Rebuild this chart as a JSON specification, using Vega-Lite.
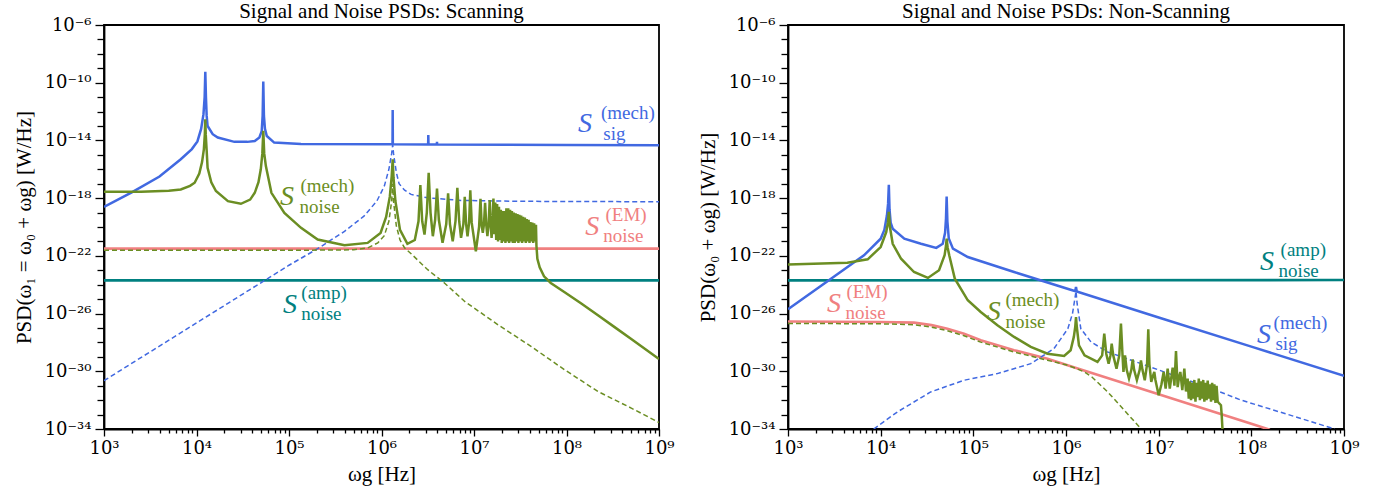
{
  "$schema": "https://vega.github.io/schema/vega-lite/v6.json",
  "background": "white",
  "padding": {"left": 12, "top": 0, "right": 5, "bottom": 5},
  "config": {
    "view": {"stroke": "black", "strokeWidth": 1.8},
    "font": "Liberation Serif",
    "axis": {"domainColor": "black", "domainWidth": 1.8, "tickColor": "black", "tickWidth": 1.3, "labelColor": "black", "titleColor": "black", "labelFont": "DejaVu Serif", "titleFont": "Liberation Serif", "labelFontSize": 18, "titleFontSize": 21, "titleFontWeight": "normal", "grid": false, "labelOverlap": false, "labelFlush": false, "labelBound": false},
    "title": {"font": "Liberation Serif", "fontSize": 21, "fontWeight": "normal", "color": "black", "offset": -6}
  },
  "datasets": {
    "L": [
      {"s":"sig","x":1000,"y":2.512e-19},{"s":"sig","x":1995,"y":2.512e-18},{"s":"sig","x":3981,"y":3.162e-17},{"s":"sig","x":6761,"y":5.012e-16},{"s":"sig","x":8913,"y":2.512e-15},{"s":"sig","x":10230,"y":8.5e-15},{"s":"sig","x":11220,"y":6.31e-14},{"s":"sig","x":11890,"y":6.31e-13},{"s":"sig","x":12250,"y":1e-11},{"s":"sig","x":12450,"y":5.623e-10},{"s":"sig","x":12650,"y":1e-11},{"s":"sig","x":12880,"y":5.012e-13},{"s":"sig","x":13180,"y":1e-13},{"s":"sig","x":14960,"y":2.692e-14},{"s":"sig","x":16980,"y":1.585e-14},{"s":"sig","x":25700,"y":7.943e-15},{"s":"sig","x":35480,"y":7.943e-15},{"s":"sig","x":42660,"y":9.12e-15},{"s":"sig","x":47860,"y":1.585e-14},{"s":"sig","x":50700,"y":4.467e-14},{"s":"sig","x":51880,"y":5.012e-13},{"s":"sig","x":52720,"y":1.23e-10},{"s":"sig","x":53580,"y":5.012e-13},{"s":"sig","x":54950,"y":6.31e-14},{"s":"sig","x":57540,"y":2.042e-14},{"s":"sig","x":69180,"y":7.079e-15},{"s":"sig","x":134900,"y":5.623e-15},{"s":"sig","x":1000000,"y":5.37e-15},{"s":"sig","x":1315000,"y":5.37e-15},{"s":"sig","x":1321000,"y":1.259e-12},{"s":"sig","x":1327000,"y":5.37e-15},{"s":"sig","x":3192000,"y":5.248e-15},{"s":"sig","x":3206000,"y":2.399e-14},{"s":"sig","x":3221000,"y":5.248e-15},{"s":"sig","x":3963000,"y":5.248e-15},{"s":"sig","x":3981000,"y":7.943e-15},{"s":"sig","x":3999000,"y":5.248e-15},{"s":"sig","x":100000000,"y":4.898e-15},{"s":"sig","x":1000000000,"y":4.677e-15},
      {"s":"sigd","x":1000,"y":2.239e-31},{"s":"sigd","x":3162,"y":2.239e-29},{"s":"sigd","x":10000,"y":2.239e-27},{"s":"sigd","x":31620,"y":2.239e-25},{"s":"sigd","x":100000,"y":2.239e-23},{"s":"sigd","x":204200,"y":3.162e-22},{"s":"sigd","x":398100,"y":5.012e-21},{"s":"sigd","x":645700,"y":5.623e-20},{"s":"sigd","x":891300,"y":6.31e-19},{"s":"sigd","x":1072000,"y":6.761e-18},{"s":"sigd","x":1202000,"y":1e-16},{"s":"sigd","x":1288000,"y":1.259e-15},{"s":"sigd","x":1321000,"y":5.012e-15},{"s":"sigd","x":1349000,"y":1.259e-15},{"s":"sigd","x":1445000,"y":6.31e-17},{"s":"sigd","x":1549000,"y":1e-17},{"s":"sigd","x":1778000,"y":3.548e-18},{"s":"sigd","x":2089000,"y":1.82e-18},{"s":"sigd","x":3162000,"y":1.047e-18},{"s":"sigd","x":7244000,"y":6.918e-19},{"s":"sigd","x":31620000,"y":6.026e-19},{"s":"sigd","x":316200000,"y":5.754e-19},{"s":"sigd","x":1000000000,"y":5.623e-19},
      {"s":"nmd","x":1000,"y":2.399e-22},{"s":"nmd","x":100000,"y":2.399e-22},{"s":"nmd","x":501200,"y":2.63e-22},{"s":"nmd","x":707900,"y":3.548e-22},{"s":"nmd","x":912000,"y":7.943e-22},{"s":"nmd","x":1072000,"y":2.512e-21},{"s":"nmd","x":1202000,"y":2.512e-20},{"s":"nmd","x":1288000,"y":6.31e-19},{"s":"nmd","x":1321000,"y":1e-17},{"s":"nmd","x":1349000,"y":6.31e-19},{"s":"nmd","x":1445000,"y":1.259e-20},{"s":"nmd","x":1585000,"y":1.259e-21},{"s":"nmd","x":1778000,"y":3.548e-22},{"s":"nmd","x":2089000,"y":1.413e-22},{"s":"nmd","x":2512000,"y":4.467e-23},{"s":"nmd","x":3162000,"y":1.096e-23},{"s":"nmd","x":4786000,"y":1.318e-24},{"s":"nmd","x":7943000,"y":6.918e-26},{"s":"nmd","x":18200000,"y":1.66e-27},{"s":"nmd","x":41690000,"y":5.129e-29},{"s":"nmd","x":95500000,"y":1.259e-30},{"s":"nmd","x":218800000,"y":3.981e-32},{"s":"nmd","x":501200000,"y":2.818e-33},{"s":"nmd","x":1000000000,"y":2.818e-34},
      {"s":"em","x":1000,"y":3.162e-22},{"s":"em","x":1000000000,"y":3.162e-22},
      {"s":"amp","x":1000,"y":2.0e-24},{"s":"amp","x":1000000000,"y":2.0e-24},
      {"s":"nm","x":1000,"y":2.754e-18},{"s":"nm","x":2512,"y":2.818e-18},{"s":"nm","x":5012,"y":3.311e-18},{"s":"nm","x":6761,"y":3.981e-18},{"s":"nm","x":8511,"y":7.079e-18},{"s":"nm","x":9550,"y":1.175e-17},{"s":"nm","x":10720,"y":5.012e-17},{"s":"nm","x":11480,"y":3.162e-16},{"s":"nm","x":12020,"y":2.512e-15},{"s":"nm","x":12300,"y":2.512e-14},{"s":"nm","x":12450,"y":2.951e-13},{"s":"nm","x":12590,"y":2.512e-14},{"s":"nm","x":12880,"y":1.995e-15},{"s":"nm","x":13180,"y":1.259e-16},{"s":"nm","x":14450,"y":1.259e-17},{"s":"nm","x":16220,"y":3.09e-18},{"s":"nm","x":21880,"y":6.166e-19},{"s":"nm","x":30200,"y":4.074e-19},{"s":"nm","x":38020,"y":7.943e-19},{"s":"nm","x":42660,"y":2.344e-18},{"s":"nm","x":46770,"y":1.259e-17},{"s":"nm","x":49550,"y":1e-16},{"s":"nm","x":51520,"y":1.259e-15},{"s":"nm","x":52720,"y":4.571e-14},{"s":"nm","x":53950,"y":1.259e-15},{"s":"nm","x":56230,"y":1.66e-16},{"s":"nm","x":64570,"y":2.344e-18},{"s":"nm","x":89130,"y":9.55e-20},{"s":"nm","x":134900,"y":8.71e-21},{"s":"nm","x":204200,"y":1.349e-21},{"s":"nm","x":398100,"y":5.37e-22},{"s":"nm","x":707900,"y":7.943e-22},{"s":"nm","x":977200,"y":3.89e-21},{"s":"nm","x":1122000,"y":5.012e-20},{"s":"nm","x":1230000,"y":1.259e-18},{"s":"nm","x":1288000,"y":3.162e-17},{"s":"nm","x":1321000,"y":4.898e-16},{"s":"nm","x":1349000,"y":2.512e-17},{"s":"nm","x":1413000,"y":6.31e-19},{"s":"nm","x":1585000,"y":6.31e-21},{"s":"nm","x":1905000,"y":6.761e-22},{"s":"nm","x":2291000,"y":1.259e-21},{"s":"nm","x":2512000,"y":2.512e-20},{"s":"nm","x":2630000,"y":7.943e-18},{"s":"nm","x":2754000,"y":2.512e-20},{"s":"nm","x":2917000,"y":3.02e-21},{"s":"nm","x":3090000,"y":1e-19},{"s":"nm","x":3236000,"y":5.754e-17},{"s":"nm","x":3388000,"y":1e-19},{"s":"nm","x":3589000,"y":2.291e-21},{"s":"nm","x":3802000,"y":3.162e-20},{"s":"nm","x":3981000,"y":4.677e-18},{"s":"nm","x":4169000,"y":3.162e-20},{"s":"nm","x":4571000,"y":7.943e-22},{"s":"nm","x":5012000,"y":1.585e-20},{"s":"nm","x":5248000,"y":2.138e-18},{"s":"nm","x":5495000,"y":1.585e-20},{"s":"nm","x":5888000,"y":1.023e-21},{"s":"nm","x":6310000,"y":2.512e-20},{"s":"nm","x":6607000,"y":5.248e-18},{"s":"nm","x":6918000,"y":2.512e-20},{"s":"nm","x":7244000,"y":1.778e-21},{"s":"nm","x":7674000,"y":1.585e-20},{"s":"nm","x":7943000,"y":1.23e-18},{"s":"nm","x":8222000,"y":1.585e-20},{"s":"nm","x":8511000,"y":2.291e-21},{"s":"nm","x":8851000,"y":1.995e-20},{"s":"nm","x":9120000,"y":3.548e-18},{"s":"nm","x":9441000,"y":1.995e-20},{"s":"nm","x":10470000,"y":2.089e-22},{"s":"nm","x":11350000,"y":1e-20},{"s":"nm","x":11750000,"y":9.12e-19},{"s":"nm","x":12110000,"y":1.259e-20},{"s":"nm","x":12450000,"y":3.89e-21},{"s":"nm","x":12820000,"y":1.585e-20},{"s":"nm","x":13180000,"y":4.786e-19},{"s":"nm","x":13550000,"y":1.585e-20},{"s":"nm","x":13960000,"y":2.291e-21},{"s":"nm","x":14390000,"y":1.585e-20},{"s":"nm","x":14790000,"y":7.244e-19},{"s":"nm","x":15140000,"y":1.585e-20},{"s":"nm","x":15490000,"y":1.778e-21},{"s":"nm","x":15850000,"y":1.585e-20},{"s":"nm","x":16220000,"y":9.55e-19},{"s":"nm","x":16600000,"y":3.162e-21},
      {"s":"nm","x":16980000,"y":5.012e-19},{"s":"nm","x":17380000,"y":1.259e-21},{"s":"nm","x":17780000,"y":3.981e-19},{"s":"nm","x":18200000,"y":1e-21},{"s":"nm","x":18620000,"y":2.512e-19},{"s":"nm","x":19050000,"y":1.259e-21},{"s":"nm","x":19500000,"y":1.585e-19},{"s":"nm","x":19950000,"y":7.943e-22},{"s":"nm","x":20420000,"y":1.259e-19},{"s":"nm","x":20890000,"y":1e-21},{"s":"nm","x":21380000,"y":1.259e-19},{"s":"nm","x":21880000,"y":7.943e-22},{"s":"nm","x":22390000,"y":1.995e-19},{"s":"nm","x":22910000,"y":1e-21},{"s":"nm","x":23440000,"y":1.995e-19},{"s":"nm","x":23990000,"y":7.943e-22},{"s":"nm","x":24550000,"y":1.585e-19},{"s":"nm","x":25120000,"y":1e-21},{"s":"nm","x":25700000,"y":1.259e-19},{"s":"nm","x":26300000,"y":7.943e-22},{"s":"nm","x":26920000,"y":1e-19},{"s":"nm","x":27540000,"y":7.943e-22},{"s":"nm","x":28180000,"y":8.913e-20},{"s":"nm","x":28840000,"y":1e-21},{"s":"nm","x":29510000,"y":7.943e-20},{"s":"nm","x":30200000,"y":7.943e-22},{"s":"nm","x":30900000,"y":7.079e-20},{"s":"nm","x":31620000,"y":1e-21},{"s":"nm","x":32360000,"y":6.31e-20},{"s":"nm","x":33110000,"y":7.943e-22},{"s":"nm","x":33880000,"y":5.012e-20},{"s":"nm","x":34670000,"y":1e-21},{"s":"nm","x":35480000,"y":4.467e-20},{"s":"nm","x":36310000,"y":7.943e-22},{"s":"nm","x":37150000,"y":3.548e-20},{"s":"nm","x":38020000,"y":1e-21},{"s":"nm","x":38900000,"y":3.162e-20},{"s":"nm","x":39810000,"y":7.943e-22},{"s":"nm","x":40740000,"y":2.239e-20},{"s":"nm","x":41690000,"y":1e-21},{"s":"nm","x":42660000,"y":1.995e-20},{"s":"nm","x":43650000,"y":7.943e-22},{"s":"nm","x":44670000,"y":1.778e-20},{"s":"nm","x":45710000,"y":1e-21},{"s":"nm","x":46770000,"y":1.413e-20},
      {"s":"nm","x":47320000,"y":5.012e-22},{"s":"nm","x":48420000,"y":6.31e-23},{"s":"nm","x":51290000,"y":1.585e-23},{"s":"nm","x":57150000,"y":3.802e-24},{"s":"nm","x":67610000,"y":1.318e-24},{"s":"nm","x":95500000,"y":3.0e-25},{"s":"nm","x":144500000,"y":5.0e-26},{"s":"nm","x":218800000,"y":7.6e-27},{"s":"nm","x":331100000,"y":1.15e-27},{"s":"nm","x":501200000,"y":1.7e-28},{"s":"nm","x":707900000,"y":3.5e-29},{"s":"nm","x":1000000000,"y":7.079e-30}
    ],
    "R": [
      {"s":"sig","x":1000,"y":1.995e-26},{"s":"sig","x":2911,"y":2.63e-24},{"s":"sig","x":6607,"y":1.096e-22},{"s":"sig","x":10000,"y":1.549e-21},{"s":"sig","x":10960,"y":6.31e-21},{"s":"sig","x":11690,"y":6.457e-20},{"s":"sig","x":12020,"y":3.981e-19},{"s":"sig","x":12250,"y":8.511e-18},{"s":"sig","x":12470,"y":1.585e-19},{"s":"sig","x":12820,"y":1.995e-20},{"s":"sig","x":13490,"y":7.586e-21},{"s":"sig","x":17990,"y":1.549e-21},{"s":"sig","x":27230,"y":6.918e-22},{"s":"sig","x":39810,"y":3.548e-22},{"s":"sig","x":46770,"y":6.918e-22},{"s":"sig","x":49550,"y":3.981e-21},{"s":"sig","x":50700,"y":3.981e-20},{"s":"sig","x":51520,"y":1.318e-18},{"s":"sig","x":52480,"y":2.512e-20},{"s":"sig","x":54330,"y":1.585e-21},{"s":"sig","x":60260,"y":3.162e-22},{"s":"sig","x":87100,"y":8.318e-23},{"s":"sig","x":275400,"y":7.586e-24},{"s":"sig","x":1122000,"y":4.467e-25},{"s":"sig","x":1259000,"y":3.548e-25},{"s":"sig","x":1282000,"y":7.079e-25},{"s":"sig","x":1306000,"y":3.388e-25},{"s":"sig","x":10000000,"y":5.37e-27},{"s":"sig","x":100000000,"y":5.129e-29},{"s":"sig","x":1000000000,"y":4.786e-31},
      {"s":"sigd","x":8414,"y":1e-34},{"s":"sigd","x":15140,"y":1.514e-33},{"s":"sigd","x":34670,"y":3.715e-32},{"s":"sigd","x":79430,"y":2.399e-31},{"s":"sigd","x":182000,"y":6.918e-31},{"s":"sigd","x":416900,"y":3.388e-30},{"s":"sigd","x":741300,"y":3.715e-29},{"s":"sigd","x":1047000,"y":8.913e-28},{"s":"sigd","x":1175000,"y":1e-26},{"s":"sigd","x":1245000,"y":1e-25},{"s":"sigd","x":1282000,"y":3.548e-25},{"s":"sigd","x":1318000,"y":5.012e-26},{"s":"sigd","x":1445000,"y":8.913e-28},{"s":"sigd","x":1862000,"y":1.072e-28},{"s":"sigd","x":2818000,"y":2.188e-29},{"s":"sigd","x":6457000,"y":3.388e-30},{"s":"sigd","x":14790000,"y":5.012e-31},{"s":"sigd","x":33880000,"y":7.943e-32},{"s":"sigd","x":77620000,"y":1e-32},{"s":"sigd","x":316200000,"y":6.31e-34},{"s":"sigd","x":794300000,"y":1e-34},
      {"s":"em","x":1000,"y":2.818e-27},{"s":"em","x":10000,"y":2.63e-27},{"s":"em","x":22910,"y":2.344e-27},{"s":"em","x":35480,"y":1.585e-27},{"s":"em","x":52480,"y":8.913e-28},{"s":"em","x":79430,"y":3.981e-28},{"s":"em","x":120200,"y":1.413e-28},{"s":"em","x":275400,"y":2.884e-29},{"s":"em","x":631000,"y":7.413e-30},{"s":"em","x":1445000,"y":1.349e-30},{"s":"em","x":10000000,"y":2.57e-32},{"s":"em","x":100000000,"y":2.291e-34},{"s":"em","x":158500000,"y":8.913e-35},
      {"s":"nmd","x":1000,"y":2.089e-27},{"s":"nmd","x":10000,"y":1.95e-27},{"s":"nmd","x":22910,"y":1.698e-27},{"s":"nmd","x":35480,"y":1.148e-27},{"s":"nmd","x":52480,"y":6.457e-28},{"s":"nmd","x":79430,"y":2.884e-28},{"s":"nmd","x":120200,"y":1.047e-28},{"s":"nmd","x":275400,"y":2.188e-29},{"s":"nmd","x":631000,"y":5.754e-30},{"s":"nmd","x":1000000,"y":2.818e-30},{"s":"nmd","x":1259000,"y":1.66e-30},{"s":"nmd","x":1585000,"y":8.913e-31},{"s":"nmd","x":1905000,"y":3.981e-31},{"s":"nmd","x":2818000,"y":3.715e-32},{"s":"nmd","x":4266000,"y":1.995e-33},{"s":"nmd","x":6457000,"y":1e-34},
      {"s":"amp","x":1000,"y":2.0e-24},{"s":"amp","x":1000000000,"y":2.1e-24},
      {"s":"nm","x":1000,"y":2.512e-23},{"s":"nm","x":4365,"y":3.388e-23},{"s":"nm","x":7244,"y":5.754e-23},{"s":"nm","x":10000,"y":4.074e-22},{"s":"nm","x":11480,"y":4.467e-21},{"s":"nm","x":11970,"y":1.995e-20},{"s":"nm","x":12250,"y":1.122e-19},{"s":"nm","x":12590,"y":1e-20},{"s":"nm","x":13490,"y":6.918e-22},{"s":"nm","x":16600,"y":6.31e-23},{"s":"nm","x":22910,"y":7.586e-24},{"s":"nm","x":32360,"y":2.951e-24},{"s":"nm","x":42660,"y":1e-23},{"s":"nm","x":48980,"y":1.096e-22},{"s":"nm","x":50700,"y":5.012e-22},{"s":"nm","x":51520,"y":1.549e-21},{"s":"nm","x":52720,"y":3.981e-22},{"s":"nm","x":54950,"y":1.096e-22},{"s":"nm","x":63100,"y":2.63e-24},{"s":"nm","x":87100,"y":8.318e-26},{"s":"nm","x":120200,"y":1.288e-26},{"s":"nm","x":182000,"y":1.549e-27},{"s":"nm","x":275400,"y":2.399e-28},{"s":"nm","x":416900,"y":4.898e-29},{"s":"nm","x":631000,"y":1.66e-29},{"s":"nm","x":955000,"y":1.148e-29},{"s":"nm","x":1122000,"y":2.884e-29},{"s":"nm","x":1216000,"y":2.512e-28},{"s":"nm","x":1259000,"y":1.259e-27},{"s":"nm","x":1282000,"y":5.754e-27},{"s":"nm","x":1312000,"y":1e-27},{"s":"nm","x":1380000,"y":6.31e-29},{"s":"nm","x":1585000,"y":1.288e-29},{"s":"nm","x":2188000,"y":4.467e-30},{"s":"nm","x":2455000,"y":1.259e-29},{"s":"nm","x":2588000,"y":4.074e-28},{"s":"nm","x":2723000,"y":1.585e-29},{"s":"nm","x":2884000,"y":3.388e-30},{"s":"nm","x":3020000,"y":1.259e-29},{"s":"nm","x":3112000,"y":8.128e-29},{"s":"nm","x":3236000,"y":1.259e-29},{"s":"nm","x":3508000,"y":1.514e-30},{"s":"nm","x":3758000,"y":1.259e-29},{"s":"nm","x":3917000,"y":1.995e-27},{"s":"nm","x":4074000,"y":1.259e-29},{"s":"nm","x":4169000,"y":8.913e-31},{"s":"nm","x":4335000,"y":1.288e-29},{"s":"nm","x":4519000,"y":1.259e-30},{"s":"nm","x":4786000,"y":3.09e-31},{"s":"nm","x":5070000,"y":1.259e-30},{"s":"nm","x":5248000,"y":6.761e-30},{"s":"nm","x":5433000,"y":1.259e-30},{"s":"nm","x":5821000,"y":2.399e-31},{"s":"nm","x":6237000,"y":1.259e-30},{"s":"nm","x":6442000,"y":5.754e-30},{"s":"nm","x":6683000,"y":1.259e-30},{"s":"nm","x":7079000,"y":2.399e-31},{"s":"nm","x":7499000,"y":3.162e-30},{"s":"nm","x":7727000,"y":8.128e-28},{"s":"nm","x":7943000,"y":3.162e-30},{"s":"nm","x":8318000,"y":1.82e-31},{"s":"nm","x":8710000,"y":5.012e-31},{"s":"nm","x":8974000,"y":8.913e-31},{"s":"nm","x":9226000,"y":2.512e-31},{"s":"nm","x":10000000,"y":2.188e-32},{"s":"nm","x":10720000,"y":1.259e-31},{"s":"nm","x":11320000,"y":8.913e-31},{"s":"nm","x":11890000,"y":6.31e-32},{"s":"nm","x":12500000,"y":1.514e-30},{"s":"nm","x":13180000,"y":6.31e-32},{"s":"nm","x":14160000,"y":1.778e-30},{"s":"nm","x":14790000,"y":1e-31},{"s":"nm","x":15380000,"y":2.512e-29},{"s":"nm","x":16030000,"y":7.943e-32},{"s":"nm","x":16600000,"y":3.981e-31},{"s":"nm","x":17140000,"y":8.913e-31},{"s":"nm","x":17990000,"y":5.012e-32},{"s":"nm","x":18920000,"y":1.514e-30},{"s":"nm","x":19720000,"y":3.981e-32},{"s":"nm","x":20560000,"y":3.09e-31},
      {"s":"nm","x":21130000,"y":1.259e-32},{"s":"nm","x":21730000,"y":1.995e-31},{"s":"nm","x":22340000,"y":1e-32},{"s":"nm","x":22960000,"y":1.585e-31},{"s":"nm","x":23600000,"y":1.259e-32},{"s":"nm","x":24270000,"y":2.512e-31},{"s":"nm","x":24950000,"y":7.943e-33},{"s":"nm","x":25650000,"y":1.585e-31},{"s":"nm","x":26360000,"y":1.585e-32},{"s":"nm","x":27100000,"y":3.162e-31},{"s":"nm","x":27860000,"y":1e-32},{"s":"nm","x":28640000,"y":1.995e-31},{"s":"nm","x":29440000,"y":1.259e-32},{"s":"nm","x":30270000,"y":2.512e-31},{"s":"nm","x":31120000,"y":7.943e-33},{"s":"nm","x":31990000,"y":1.585e-31},{"s":"nm","x":32890000,"y":1e-32},{"s":"nm","x":33810000,"y":2.239e-31},{"s":"nm","x":34750000,"y":1.259e-32},{"s":"nm","x":35730000,"y":1.259e-31},{"s":"nm","x":36730000,"y":7.943e-33},{"s":"nm","x":37760000,"y":1.585e-31},{"s":"nm","x":38820000,"y":1e-32},{"s":"nm","x":39900000,"y":1.259e-31},{"s":"nm","x":41020000,"y":6.31e-33},{"s":"nm","x":42170000,"y":1e-31},{"s":"nm","x":43350000,"y":7.943e-33},{"s":"nm","x":44670000,"y":6.31e-33},{"s":"nm","x":46990000,"y":4.467e-33},{"s":"nm","x":47860000,"y":1e-33},{"s":"nm","x":48980000,"y":6.31e-35}
    ],
    "LL": [
      {"s":"sig","k":"S","t":"S","x":1.33e8,"y":1.318e-13},{"s":"sig","k":"u","t":"(mech)","x":2.36e8,"y":8.318e-13},{"s":"sig","k":"d","t":"sig","x":2.5e8,"y":2.884e-14},
      {"s":"nm","k":"S","t":"S","x":8.0e4,"y":1.122e-18},{"s":"nm","k":"u","t":"(mech)","x":1.33e5,"y":7.079e-18},{"s":"nm","k":"d","t":"noise","x":1.3e5,"y":2.455e-19},
      {"s":"em","k":"S","t":"S","x":1.59e8,"y":1.072e-20},{"s":"em","k":"u","t":"(EM)","x":2.64e8,"y":6.761e-20},{"s":"em","k":"d","t":"noise","x":2.5e8,"y":2.344e-21},
      {"s":"amp","k":"S","t":"S","x":8.6e4,"y":4.074e-26},{"s":"amp","k":"u","t":"(amp)","x":1.36e5,"y":2.57e-25},{"s":"amp","k":"d","t":"noise","x":1.36e5,"y":8.913e-27}
    ],
    "LR": [
      {"s":"amp","k":"S","t":"S","x":1.24e8,"y":3.802e-23},{"s":"amp","k":"u","t":"(amp)","x":2.07e8,"y":2.399e-22},{"s":"amp","k":"d","t":"noise","x":1.97e8,"y":8.318e-24},
      {"s":"sig","k":"S","t":"S","x":1.15e8,"y":3.311e-28},{"s":"sig","k":"u","t":"(mech)","x":1.74e8,"y":2.089e-27},{"s":"sig","k":"d","t":"sig","x":1.82e8,"y":7.244e-29},
      {"s":"em","k":"S","t":"S","x":2640,"y":4.677e-26},{"s":"em","k":"u","t":"(EM)","x":4280,"y":2.951e-25},{"s":"em","k":"d","t":"noise","x":4180,"y":1.023e-26},
      {"s":"nm","k":"S","t":"S","x":1.40e5,"y":1.288e-26},{"s":"nm","k":"u","t":"(mech)","x":2.22e5,"y":8.128e-26},{"s":"nm","k":"d","t":"noise","x":2.22e5,"y":2.818e-27}
    ]
  },
  "bounds": "flush",
  "spacing": 129,
  "hconcat": [
    {
      "width": 555,
      "height": 404,
      "title": {"text": "Signal and Noise PSDs: Scanning"},
      "data": {"name": "L"},
      "encoding": {
        "x": {"field": "x", "type": "quantitative", "title": "ωg [Hz]",
          "scale": {"type": "log", "domain": [1000, 1000000000], "nice": false},
          "axis": {"values": [1000,2000,3000,4000,5000,6000,7000,8000,9000,10000,20000,30000,40000,50000,60000,70000,80000,90000,100000,200000,300000,400000,500000,600000,700000,800000,900000,1000000,2000000,3000000,4000000,5000000,6000000,7000000,8000000,9000000,10000000,20000000,30000000,40000000,50000000,60000000,70000000,80000000,90000000,100000000,200000000,300000000,400000000,500000000,600000000,700000000,800000000,900000000,1000000000],
            "labelExpr": "datum.value==1000?'10³':datum.value==10000?'10⁴':datum.value==100000?'10⁵':datum.value==1000000?'10⁶':datum.value==10000000?'10⁷':datum.value==100000000?'10⁸':datum.value==1000000000?'10⁹':''",
            "tickSize": {"condition": {"test": "datum.value==1000||datum.value==10000||datum.value==100000||datum.value==1000000||datum.value==10000000||datum.value==100000000||datum.value==1000000000", "value": 7}, "value": 4},
            "labelPadding": 3, "titlePadding": 6}},
        "y": {"field": "y", "type": "quantitative", "title": "PSD(ω₁ = ω₀ + ωg)  [W/Hz]",
          "scale": {"type": "log", "domain": [1e-34, 1e-6], "nice": false},
          "axis": {"values": [1e-34,1e-33,1e-32,1e-31,1e-30,1e-29,1e-28,1e-27,1e-26,1e-25,1e-24,1e-23,1e-22,1e-21,1e-20,1e-19,1e-18,1e-17,1e-16,1e-15,1e-14,1e-13,1e-12,1e-11,1e-10,1e-9,1e-8,1e-7,1e-6],
            "labelExpr": "datum.value==1e-6?'10⁻⁶':datum.value==1e-10?'10⁻¹⁰':datum.value==1e-14?'10⁻¹⁴':datum.value==1e-18?'10⁻¹⁸':datum.value==1e-22?'10⁻²²':datum.value==1e-26?'10⁻²⁶':datum.value==1e-30?'10⁻³⁰':datum.value==1e-34?'10⁻³⁴':''",
            "tickSize": {"condition": {"test": "datum.value==1e-6||datum.value==1e-10||datum.value==1e-14||datum.value==1e-18||datum.value==1e-22||datum.value==1e-26||datum.value==1e-30||datum.value==1e-34", "value": 9}, "value": 7},
            "labelPadding": 4, "titlePadding": 10}}
      },
      "layer": [
        {"transform": [{"filter": "datum.s=='amp'||datum.s=='em'"}], "mark": {"type": "line", "strokeWidth": 2.6, "clip": true},
         "encoding": {"color": {"field": "s", "type": "nominal", "legend": null, "scale": {"domain": ["sig","sigd","nm","nmd","em","amp"], "range": ["#4169E1","#4169E1","#6B8E23","#6B8E23","#F08080","#008080"]}}}},
        {"transform": [{"filter": "datum.s=='sigd'||datum.s=='nmd'"}], "mark": {"type": "line", "strokeWidth": 1.5, "strokeDash": [5, 3], "clip": true},
         "encoding": {"color": {"field": "s", "type": "nominal", "legend": null}}},
        {"transform": [{"filter": "datum.s=='sig'"}], "mark": {"type": "line", "strokeWidth": 2.5, "clip": true},
         "encoding": {"color": {"field": "s", "type": "nominal", "legend": null}}},
        {"transform": [{"filter": "datum.s=='nm'"}], "mark": {"type": "line", "strokeWidth": 2.5, "clip": true},
         "encoding": {"color": {"field": "s", "type": "nominal", "legend": null}}},
        {"data": {"name": "LL"}, "transform": [{"filter": "datum.k=='S'"}], "mark": {"type": "text", "fontStyle": "italic", "fontSize": 28, "align": "left", "baseline": "middle", "font": "Liberation Serif"},
         "encoding": {"text": {"field": "t"}, "color": {"field": "s", "type": "nominal", "legend": null}}},
        {"data": {"name": "LL"}, "transform": [{"filter": "datum.k!='S'"}], "mark": {"type": "text", "fontSize": 19, "align": "left", "baseline": "middle", "font": "Liberation Serif"},
         "encoding": {"text": {"field": "t"}, "color": {"field": "s", "type": "nominal", "legend": null}}}
      ]
    },
    {
      "width": 556,
      "height": 404,
      "title": {"text": "Signal and Noise PSDs: Non-Scanning"},
      "data": {"name": "R"},
      "encoding": {
        "x": {"field": "x", "type": "quantitative", "title": "ωg [Hz]",
          "scale": {"type": "log", "domain": [1000, 1000000000], "nice": false},
          "axis": {"values": [1000,2000,3000,4000,5000,6000,7000,8000,9000,10000,20000,30000,40000,50000,60000,70000,80000,90000,100000,200000,300000,400000,500000,600000,700000,800000,900000,1000000,2000000,3000000,4000000,5000000,6000000,7000000,8000000,9000000,10000000,20000000,30000000,40000000,50000000,60000000,70000000,80000000,90000000,100000000,200000000,300000000,400000000,500000000,600000000,700000000,800000000,900000000,1000000000],
            "labelExpr": "datum.value==1000?'10³':datum.value==10000?'10⁴':datum.value==100000?'10⁵':datum.value==1000000?'10⁶':datum.value==10000000?'10⁷':datum.value==100000000?'10⁸':datum.value==1000000000?'10⁹':''",
            "tickSize": {"condition": {"test": "datum.value==1000||datum.value==10000||datum.value==100000||datum.value==1000000||datum.value==10000000||datum.value==100000000||datum.value==1000000000", "value": 7}, "value": 4},
            "labelPadding": 3, "titlePadding": 6}},
        "y": {"field": "y", "type": "quantitative", "title": "PSD(ω₀ + ωg)  [W/Hz]",
          "scale": {"type": "log", "domain": [1e-34, 1e-6], "nice": false},
          "axis": {"values": [1e-34,1e-33,1e-32,1e-31,1e-30,1e-29,1e-28,1e-27,1e-26,1e-25,1e-24,1e-23,1e-22,1e-21,1e-20,1e-19,1e-18,1e-17,1e-16,1e-15,1e-14,1e-13,1e-12,1e-11,1e-10,1e-9,1e-8,1e-7,1e-6],
            "labelExpr": "datum.value==1e-6?'10⁻⁶':datum.value==1e-10?'10⁻¹⁰':datum.value==1e-14?'10⁻¹⁴':datum.value==1e-18?'10⁻¹⁸':datum.value==1e-22?'10⁻²²':datum.value==1e-26?'10⁻²⁶':datum.value==1e-30?'10⁻³⁰':datum.value==1e-34?'10⁻³⁴':''",
            "tickSize": {"condition": {"test": "datum.value==1e-6||datum.value==1e-10||datum.value==1e-14||datum.value==1e-18||datum.value==1e-22||datum.value==1e-26||datum.value==1e-30||datum.value==1e-34", "value": 9}, "value": 7},
            "labelPadding": 4, "titlePadding": 10}}
      },
      "layer": [
        {"transform": [{"filter": "datum.s=='amp'||datum.s=='em'"}], "mark": {"type": "line", "strokeWidth": 2.6, "clip": true},
         "encoding": {"color": {"field": "s", "type": "nominal", "legend": null, "scale": {"domain": ["sig","sigd","nm","nmd","em","amp"], "range": ["#4169E1","#4169E1","#6B8E23","#6B8E23","#F08080","#008080"]}}}},
        {"transform": [{"filter": "datum.s=='sigd'||datum.s=='nmd'"}], "mark": {"type": "line", "strokeWidth": 1.5, "strokeDash": [5, 3], "clip": true},
         "encoding": {"color": {"field": "s", "type": "nominal", "legend": null}}},
        {"transform": [{"filter": "datum.s=='sig'"}], "mark": {"type": "line", "strokeWidth": 2.5, "clip": true},
         "encoding": {"color": {"field": "s", "type": "nominal", "legend": null}}},
        {"transform": [{"filter": "datum.s=='nm'"}], "mark": {"type": "line", "strokeWidth": 2.5, "clip": true},
         "encoding": {"color": {"field": "s", "type": "nominal", "legend": null}}},
        {"data": {"name": "LR"}, "transform": [{"filter": "datum.k=='S'"}], "mark": {"type": "text", "fontStyle": "italic", "fontSize": 28, "align": "left", "baseline": "middle", "font": "Liberation Serif"},
         "encoding": {"text": {"field": "t"}, "color": {"field": "s", "type": "nominal", "legend": null}}},
        {"data": {"name": "LR"}, "transform": [{"filter": "datum.k!='S'"}], "mark": {"type": "text", "fontSize": 19, "align": "left", "baseline": "middle", "font": "Liberation Serif"},
         "encoding": {"text": {"field": "t"}, "color": {"field": "s", "type": "nominal", "legend": null}}}
      ]
    }
  ]
}
